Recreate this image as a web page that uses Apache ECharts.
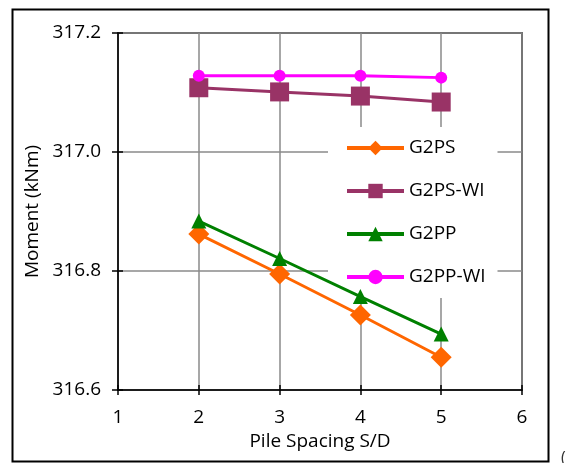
<!DOCTYPE html>
<html>
<head>
<meta charset="utf-8">
<script src="https://cdn.jsdelivr.net/npm/echarts@6/dist/echarts.min.js"></script>
<style>
html,body{margin:0;padding:0;background:#fff;}
#chart{width:572px;height:463px;}
</style>
</head>
<body>
<div id="chart"></div>
<script>
const xValues = [2, 3, 4, 5];
const seriesNames = ['G2PS', 'G2PS-WI', 'G2PP', 'G2PP-WI'];
const g2ps   = [316.862, 316.795, 316.726, 316.655];
const g2psWi = [317.108, 317.101, 317.094, 317.084];
const g2pp   = [316.884, 316.821, 316.757, 316.694];
const g2ppWi = [317.128, 317.128, 317.128, 317.125];
const xTicks = [1, 2, 3, 4, 5, 6];
const yTicks = [316.6, 316.8, 317.0, 317.2];

const FONT = 'Open Sans';
const pairs = arr => xValues.map((x, i) => [x, arr[i]]);

const chart = echarts.init(document.getElementById('chart'), null, {renderer: 'canvas'});

function series(name, data, color, symbol, size) {
  return {
    name: name, type: 'line', data: pairs(data),
    xAxisIndex: 0, yAxisIndex: 0,
    symbol: symbol, symbolSize: size,
    lineStyle: {color: color, width: 3},
    itemStyle: {color: color},
    emphasis: {disabled: true},
    z: 3,
    animation: false
  };
}

const gridTickX = {
  type: 'value', min: xTicks[0], max: xTicks[xTicks.length - 1], interval: 1,
  axisLine: {show: false}, axisLabel: {show: false}, splitLine: {show: false},
  axisTick: {show: true, inside: true, length: 5, lineStyle: {color: '#000', width: 1.5}},
  position: 'bottom', offset: 0
};
const gridTickY = {
  type: 'value', min: yTicks[0], max: yTicks[yTicks.length - 1], interval: 0.2,
  axisLine: {show: false}, axisLabel: {show: false}, splitLine: {show: false},
  axisTick: {show: true, inside: true, length: 5, lineStyle: {color: '#000', width: 1.5}},
  position: 'left', offset: 0
};

chart.setOption({
  animation: false,
  backgroundColor: '#fff',
  textStyle: {fontFamily: FONT},
  grid: {left: 118, top: 33, right: 50, bottom: 73, show: true, borderColor: '#000', borderWidth: 1.5, backgroundColor: 'transparent'},
  xAxis: [{
    type: 'value', min: xTicks[0], max: xTicks[xTicks.length - 1], interval: 1,
    name: 'Pile Spacing S/D', nameLocation: 'middle', nameGap: 39,
    nameTextStyle: {fontFamily: FONT, fontSize: 19, color: '#000'},
    axisLine: {show: true, onZero: false, lineStyle: {color: '#000', width: 1.5}},
    axisTick: {show: true, length: 5, lineStyle: {color: '#000', width: 1.5}},
    axisLabel: {fontFamily: FONT, fontSize: 19, color: '#000', margin: 18},
    splitLine: {show: true, lineStyle: {color: '#8a8a8a', width: 1.5}}
  }, gridTickX],
  yAxis: [{
    type: 'value', min: yTicks[0], max: yTicks[yTicks.length - 1], interval: 0.2,
    name: 'Moment (kNm)', nameLocation: 'middle', nameGap: 74, nameRotate: 90,
    nameTextStyle: {fontFamily: FONT, fontSize: 19, color: '#000'},
    axisLine: {show: true, onZero: false, lineStyle: {color: '#000', width: 1.5}},
    axisTick: {show: true, length: 6, lineStyle: {color: '#000', width: 1.5}},
    axisLabel: {fontFamily: FONT, fontSize: 19, color: '#000', margin: 17,
      formatter: v => v.toFixed(1)},
    splitLine: {show: true, lineStyle: {color: '#8a8a8a', width: 1.5}}
  }, gridTickY],
  legend: {
    orient: 'vertical', left: 328, top: 127,
    width: 177,
    z: 1,
    padding: [11, 12, 11, 17],
    backgroundColor: '#fff',
    itemWidth: 57, itemHeight: 18, itemGap: 23,
    lineStyle: {width: 4},
    textStyle: {fontFamily: FONT, fontSize: 19, color: '#000', lineHeight: 20, padding: [0, 0, 0, 0]},
    data: seriesNames
  },
  series: [
    series(seriesNames[0], g2ps, '#FF6600', 'diamond', 21),
    series(seriesNames[1], g2psWi, '#993366', 'rect', 19),
    series(seriesNames[2], g2pp, '#008000', 'triangle', 15),
    series(seriesNames[3], g2ppWi, '#FF00FF', 'circle', 12)
  ],
  graphic: [
    {type: 'rect', shape: {x: 12.5, y: 9.5, width: 536, height: 452}, style: {fill: 'none', stroke: '#000', lineWidth: 2}, silent: true, z: 100},
    {type: 'text', left: 561, top: 450, style: {text: '(', font: '16px "Open Sans"', fill: '#333'}, silent: true}
  ]
});
</script>
</body>
</html>
